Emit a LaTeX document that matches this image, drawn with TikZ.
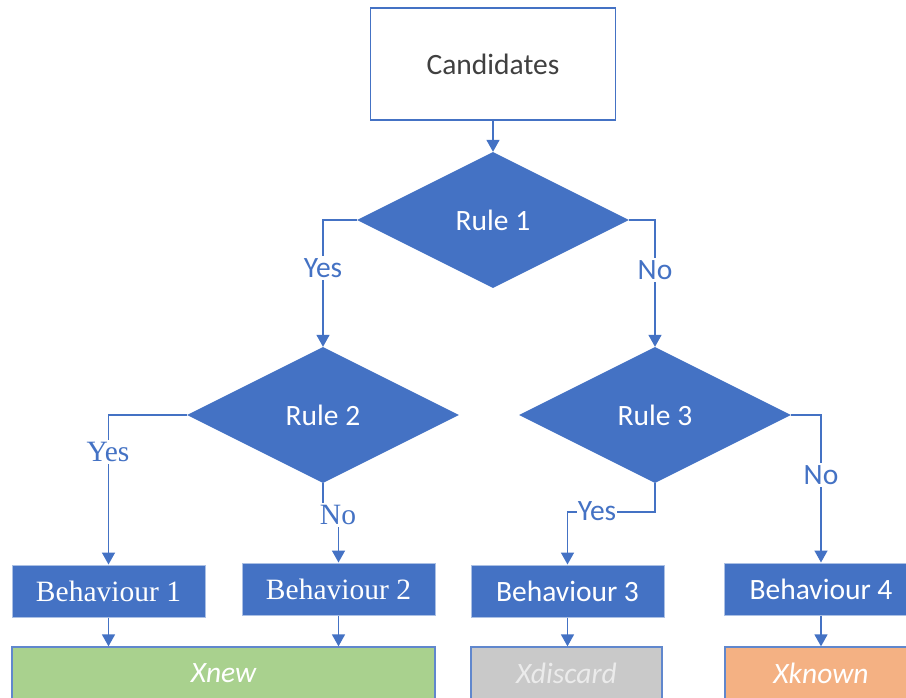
\documentclass[tikz,border=0pt]{standalone}
\usepackage{fontspec}
\setmainfont{Carlito}
\newfontfamily\tmsfont{Liberation Serif}
\usetikzlibrary{shapes.geometric,arrows.meta}
\definecolor{mblue}{HTML}{4472C4}
\definecolor{mgreen}{HTML}{A9D18E}
\definecolor{mgrey}{HTML}{C9C9C9}
\definecolor{morange}{HTML}{F4B183}
\definecolor{dtext}{HTML}{404040}
\newcommand{\bigsz}{\fontsize{29.5}{34}\selectfont}
\begin{document}
\begin{tikzpicture}[x=1pt,y=-1pt,
  every node/.style={font=\bigsz},
  startbox/.style={rectangle, draw=mblue, line width=1.3pt, fill=white, minimum width=245pt, minimum height=112pt, inner sep=0pt, text=dtext},
  dec/.style={diamond, fill=mblue, minimum width=272pt, minimum height=136pt, inner sep=0pt, text=white},
  beh/.style={rectangle, fill=mblue, draw=mblue!45!white, line width=1pt, minimum width=193pt, minimum height=52pt, inner sep=0pt, text=white},
  outbox/.style={rectangle, draw=mblue!85!white, line width=1.3pt, minimum height=52pt, inner sep=0pt, text=white, font=\bigsz\itshape},
  conn/.style={draw=mblue, line width=1.6pt, -{Triangle[width=13pt,length=12pt]}},
  lbl/.style={fill=white, text=mblue, inner sep=2pt}]
\clip (0,0) rectangle (906,698);
\fill[white] (0,0) rectangle (906,698);

\node[startbox] (cand) at (493,64) {Candidates};
\node[dec] (r1) at (493,220) {Rule 1};
\node[dec] (r2) at (323,415) {Rule 2};
\node[dec] (r3) at (655,415) {Rule 3};

\node[beh, font=\bigsz\tmsfont] (b1) at (108.5,591) {Behaviour 1};
\node[beh, font=\bigsz\tmsfont] (b2) at (338.5,589) {Behaviour 2};
\node[beh] (b3) at (567.5,591) {Behaviour 3};
\node[beh] (b4) at (821,589) {Behaviour 4};

\node[outbox, fill=mgreen, minimum width=423pt] (xnew) at (223.5,673) {Xnew};
\node[outbox, fill=mgrey, minimum width=191pt, text=white!92!black] (xdis) at (566.5,673) {Xdiscard};
\node[outbox, fill=morange, minimum width=192pt] (xkn) at (821,673) {Xknown};
\fill[white] (0,698) rectangle (906,710);

\draw[conn] (cand.south) -- (r1.north);
\draw[conn] (r1.west) -| (r2.north);
\draw[conn] (r1.east) -| (r3.north);
\draw[conn] (r2.west) -| (b1.north);
\draw[conn] (r2.south) -- ++(0,32) -| (b2.north);
\draw[conn] (r3.south) -- ++(0,29) -| (b3.north);
\draw[conn] (r3.east) -| (b4.north);
\draw[conn] (b1.south) -- (b1.south |- xnew.north);
\draw[conn] (b2.south) -- (b2.south |- xnew.north);
\draw[conn] (b3.south) -- (b3.south |- xdis.north);
\draw[conn] (b4.south) -- (b4.south |- xkn.north);

\node[lbl] (l1) at (323,268) {Yes};
\node[lbl] (l2) at (655,270) {No};
\node[lbl, font=\bigsz\tmsfont] (l3) at (108,452) {Yes};
\node[lbl, font=\bigsz\tmsfont] (l4) at (338,515) {No};
\node[lbl, inner xsep=1pt] (l5) at (597,511) {Yes};
\node[lbl] (l6) at (821,475) {No};
\end{tikzpicture}
\end{document}
